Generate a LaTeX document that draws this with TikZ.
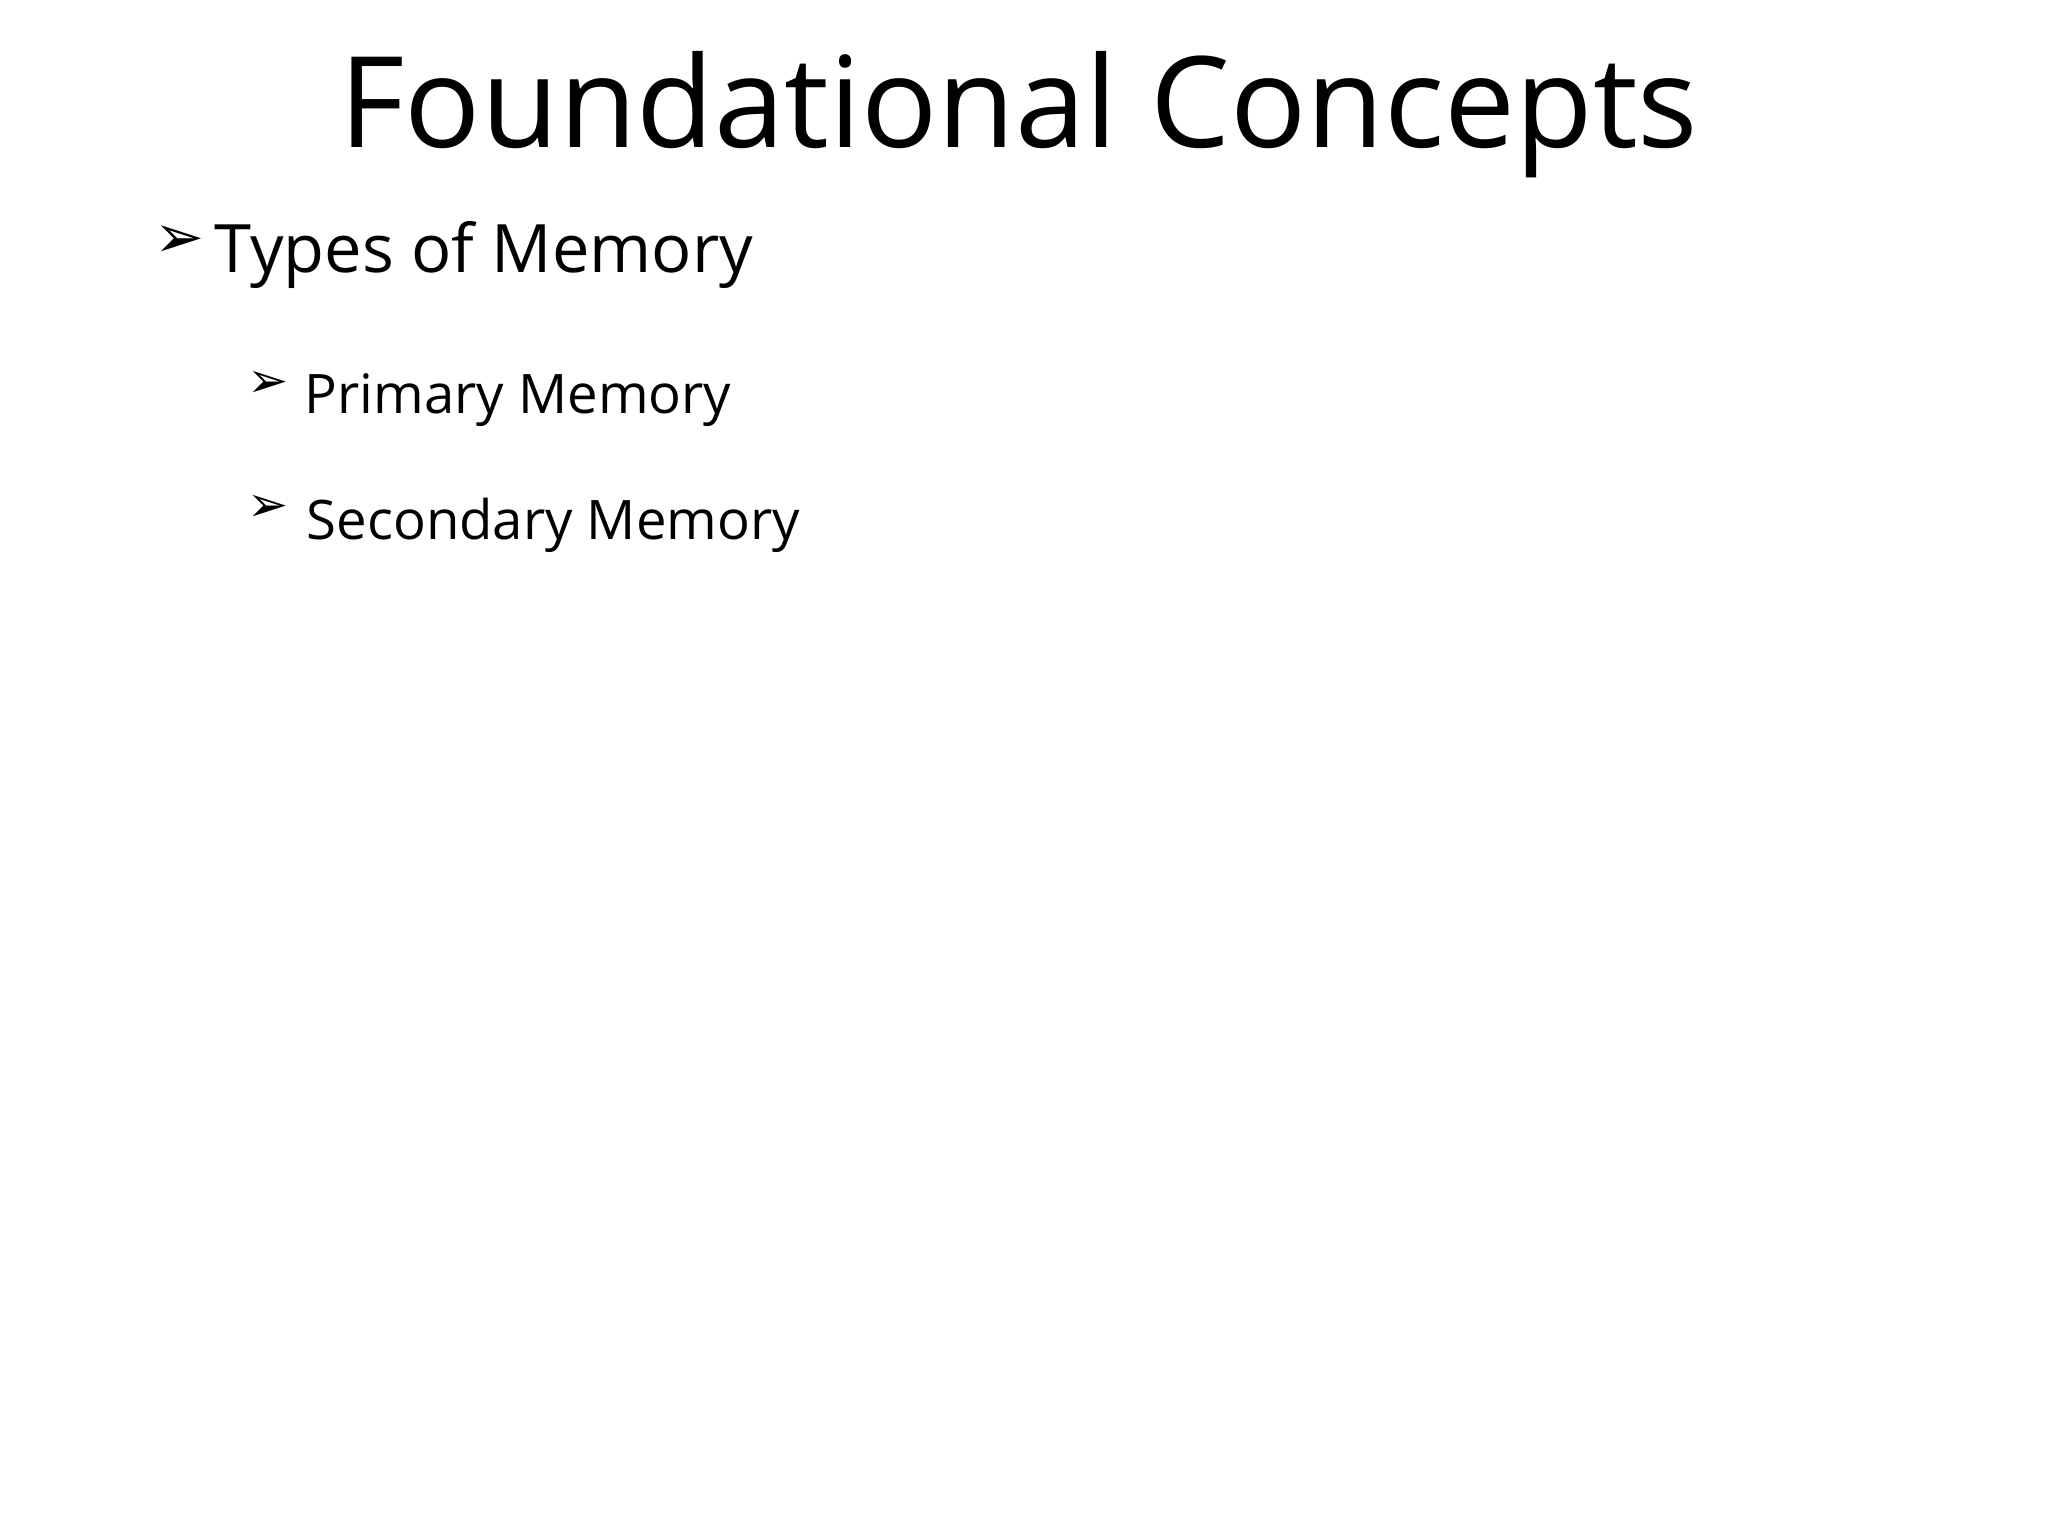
\documentclass[tikz,border=0pt]{standalone}
\usepackage{fontspec}
\setmainfont{Open Sans}
\newfontfamily\symf{DejaVu Sans}
\begin{document}
\begin{tikzpicture}[x=1cm,y=1cm,
  tnode/.style={inner sep=0pt,anchor=base west},
  bul/.style={inner sep=0pt,anchor=base west,font=\symf}]
\useasboundingbox (0,0) rectangle (20.48,-15.36);
\fill[white] (0,0) rectangle (20.48,-15.36);
\node[inner sep=0pt,anchor=base,font=\fontsize{36}{40}\selectfont] (title) at (10.19,-1.48) {Foundational Concepts};
\node[bul,font=\symf\fontsize{17}{20}\selectfont] (b1) at (1.54,-2.58) {➢};
\node[tnode,font=\fontsize{19}{23}\selectfont] (t1) at (2.14,-2.73) {Types of Memory};
\node[bul,font=\symf\fontsize{14}{17}\selectfont] (b2) at (2.47,-3.98) {➢};
\node[tnode,font=\fontsize{15.5}{19}\selectfont] (t2) at (3.04,-4.14) {Primary Memory};
\node[bul,font=\symf\fontsize{14}{17}\selectfont] (b3) at (2.47,-5.22) {➢};
\node[tnode,font=\fontsize{15.5}{19}\selectfont] (t3) at (3.06,-5.40) {Secondary Memory};
\end{tikzpicture}
\end{document}
